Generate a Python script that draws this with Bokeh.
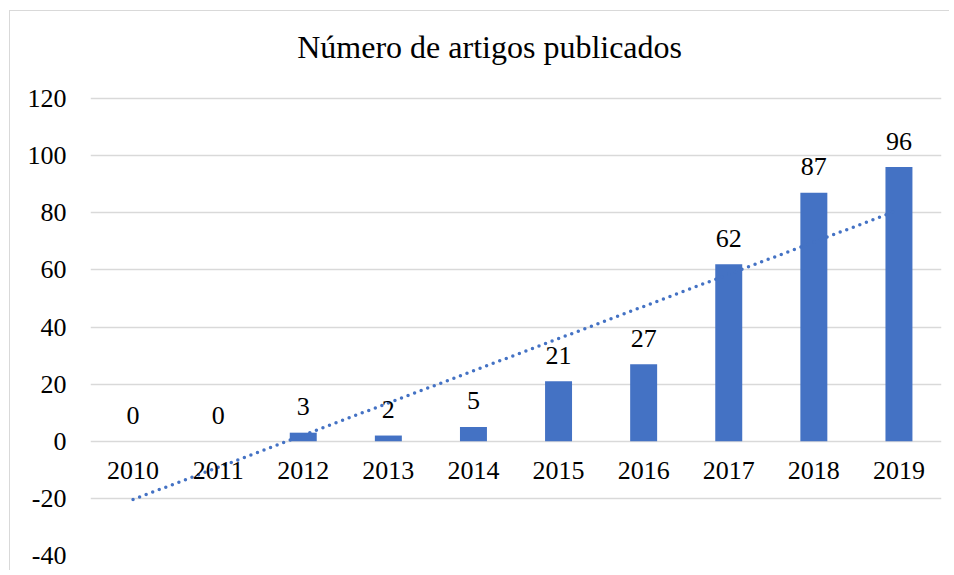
import numpy as np
from bokeh.plotting import figure
from bokeh.models import Range1d, ColumnDataSource, FixedTicker, Label
from bokeh.core.properties import value
from bokeh.embed import file_html
from bokeh.resources import INLINE

# Data
years = ["2010", "2011", "2012", "2013", "2014", "2015", "2016", "2017", "2018", "2019"]
articles = [0, 0, 3, 2, 5, 21, 27, 62, 87, 96]
y_ticks = [-40, -20, 0, 20, 40, 60, 80, 100, 120]
chart_title = "Número de artigos publicados"

FONT = "Liberation Serif"
BLUE = "#4472C4"
GRID = "#D9D9D9"

idx = np.arange(len(articles))
coef = np.polyfit(idx, articles, 1)
trend = list(np.polyval(coef, idx))

src = ColumnDataSource(dict(year=years, n=articles, lab=[str(v) for v in articles], trend=trend))

# frame extends above the 120 gridline to leave room for the chart title
p = figure(x_range=years, y_range=Range1d(-40, 150.46), width=940, height=560,
           output_backend="svg", toolbar_location=None, tools="",
           min_border_left=80, min_border_right=9, min_border_top=0, min_border_bottom=16)
p.margin = (10, 0, 0, 9)
p.outline_line_color = None
p.background_fill_color = "white"
p.border_fill_color = "white"
p.styles = {"border-left": "1.5px solid #D9D9D9", "border-top": "1.5px solid #D9D9D9"}

p.vbar(x="year", top="n", bottom=0, width=0.317, fill_color=BLUE, line_color=None, source=src)
p.line(x="year", y="trend", source=src, line_color=BLUE, line_width=3.5,
       line_dash="0 7", line_cap="round")
p.text(x="year", y="n", text="lab", source=src, text_align="center",
       text_baseline="alphabetic", y_offset=-26, text_font=value(FONT),
       text_font_size="26px", text_color="black")

p.add_layout(Label(x=4.69, y=138.2, text=chart_title, text_align="center",
                   text_baseline="alphabetic", text_font=FONT,
                   text_font_size="32px", text_color="black"))

# axes
p.xaxis.fixed_location = 0
p.xaxis.axis_line_color = None
p.xaxis.major_tick_line_color = None
p.xaxis.minor_tick_line_color = None
p.xaxis.major_tick_out = 0
p.xaxis.major_label_standoff = 21
p.xaxis.major_label_text_font = FONT
p.xaxis.major_label_text_font_size = "26px"
p.xaxis.major_label_text_color = "black"
p.xgrid.grid_line_color = None

p.yaxis.ticker = FixedTicker(ticks=y_ticks)
p.yaxis.major_label_overrides = {t: str(t) for t in y_ticks}
p.yaxis.axis_line_color = None
p.yaxis.major_tick_line_color = None
p.yaxis.minor_tick_line_color = None
p.yaxis.major_tick_out = 0
p.yaxis.major_label_standoff = 24
p.yaxis.major_label_text_font = FONT
p.yaxis.major_label_text_font_size = "26px"
p.yaxis.major_label_text_color = "black"
p.ygrid.grid_line_color = GRID
p.ygrid.grid_line_width = 1.5

open("out.html", "w").write(file_html(p, INLINE))
